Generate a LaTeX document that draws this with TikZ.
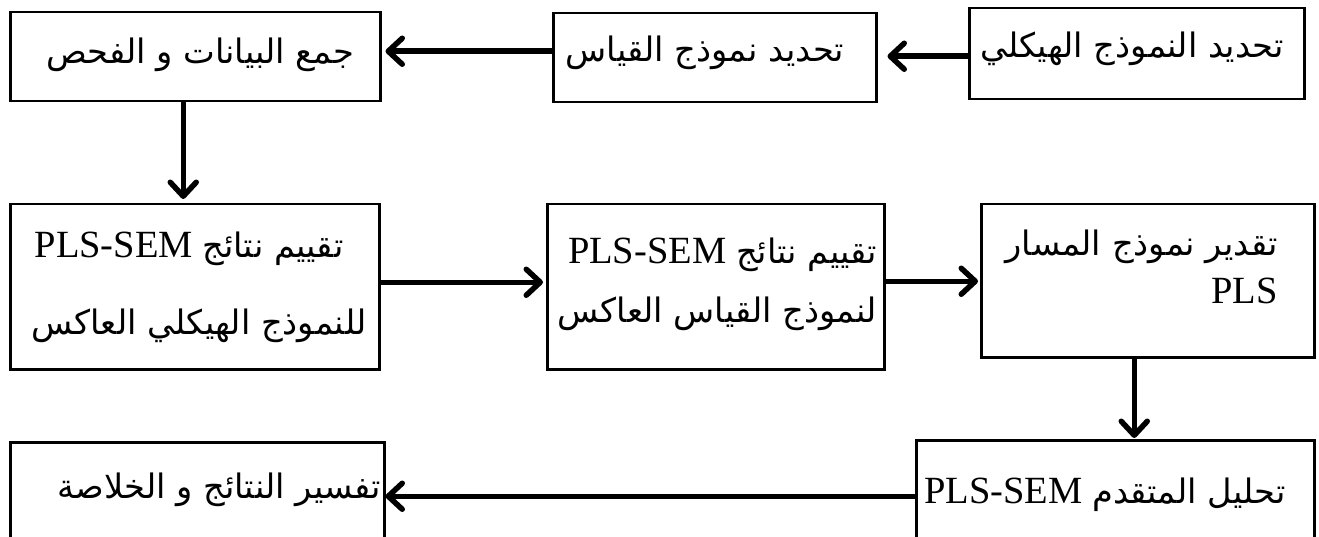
\documentclass[tikz,border=0pt]{standalone}
\usepackage{fontspec}
\setmainfont{Liberation Serif}
\newfontfamily\arabicfont[Script=Arabic,Scale=0.875]{DejaVu Sans}
\TeXXeTstate=1
\usetikzlibrary{arrows.meta}
\begin{document}
\begin{tikzpicture}[x=1pt,y=-1pt,
  box/.style={draw, line width=2.5pt, inner sep=0pt, anchor=north west},
  lbl/.style={inner sep=0pt, anchor=base, font=\fontsize{38.5}{44}\selectfont},
  lblr/.style={lbl, anchor=base east},
  arr/.style={line width=5.5pt, -{Straight Barb[length=14pt,width=26pt,round]}}]
\clip (0,0) rectangle (1319,537);
% boxes
\node[box, minimum width=370pt, minimum height=89pt]  (A) at (9,11) {};
\node[box, minimum width=323pt, minimum height=89pt]  (B) at (552,12) {};
\node[box, minimum width=335pt, minimum height=91pt]  (C) at (968,7) {};
\node[box, minimum width=369pt, minimum height=165pt] (D) at (9,203) {};
\node[box, minimum width=337pt, minimum height=165pt] (E) at (546,203) {};
\node[box, minimum width=333pt, minimum height=153pt] (F) at (980,203) {};
\node[box, minimum width=374pt, minimum height=130pt] (G) at (9,441) {};
\node[box, minimum width=398pt, minimum height=130pt] (H) at (915,439) {};
% labels
\node[lbl] (tA) at (200,64) {\arabicfont\beginR جمع البيانات و الفحص\endR};
\node[lbl] (tB) at (705,62) {\arabicfont\beginR تحديد نموذج القياس\endR};
\node[lbl] (tC) at (1132,58) {\arabicfont\beginR تحديد النموذج الهيكلي\endR};
\node[lbl] (tD1) at (189,258) {\beginR{\arabicfont تقييم نتائج} \beginL PLS-SEM\endL\endR};
\node[lbl] (tD2) at (199,334) {\arabicfont\beginR للنموذج الهيكلي العاكس\endR};
\node[lblr] (tE1) at (877,263) {\beginR{\arabicfont تقييم نتائج} \beginL PLS-SEM\endL\endR};
\node[lblr] (tE2) at (877,322) {\arabicfont\beginR لنموذج القياس العاكس\endR};
\node[lblr] (tF1) at (1278,256) {\arabicfont\beginR تقدير نموذج المسار\endR};
\node[lblr] (tF2) at (1278,303) {PLS};
\node[lblr] (tG) at (381,498) {\arabicfont\beginR تفسير النتائج و الخلاصة\endR};
\node[lbl] (tH) at (1105,503) {\beginR{\arabicfont تحليل المتقدم} \beginL PLS-SEM\endL\endR};
% connectors
\draw[arr] ([yshift=-2.5pt]C.west) -- ([yshift=-2.5pt,xshift=10pt]C.west -| B.east);
\draw[arr] ([yshift=6.5pt]B.west) -- ([yshift=6.5pt,xshift=4pt]B.west -| A.east);
\draw[arr, shorten >=4pt] ([xshift=-12pt]A.south) -- ([xshift=-12pt]A.south |- D.north);
\draw[arr, shorten >=3pt] ([yshift=4.5pt]D.east) -- ([yshift=4.5pt]D.east -| E.west);
\draw[arr, shorten >=2pt] ([yshift=5.5pt]E.east) -- ([yshift=5.5pt]E.east -| F.west);
\draw[arr, shorten >=1pt] ([xshift=-13.5pt]F.south) -- ([xshift=-13.5pt]F.south |- H.north);
\draw[arr] ([yshift=9pt]H.west) -- ([yshift=9pt]H.west -| G.east);
\end{tikzpicture}
\end{document}
